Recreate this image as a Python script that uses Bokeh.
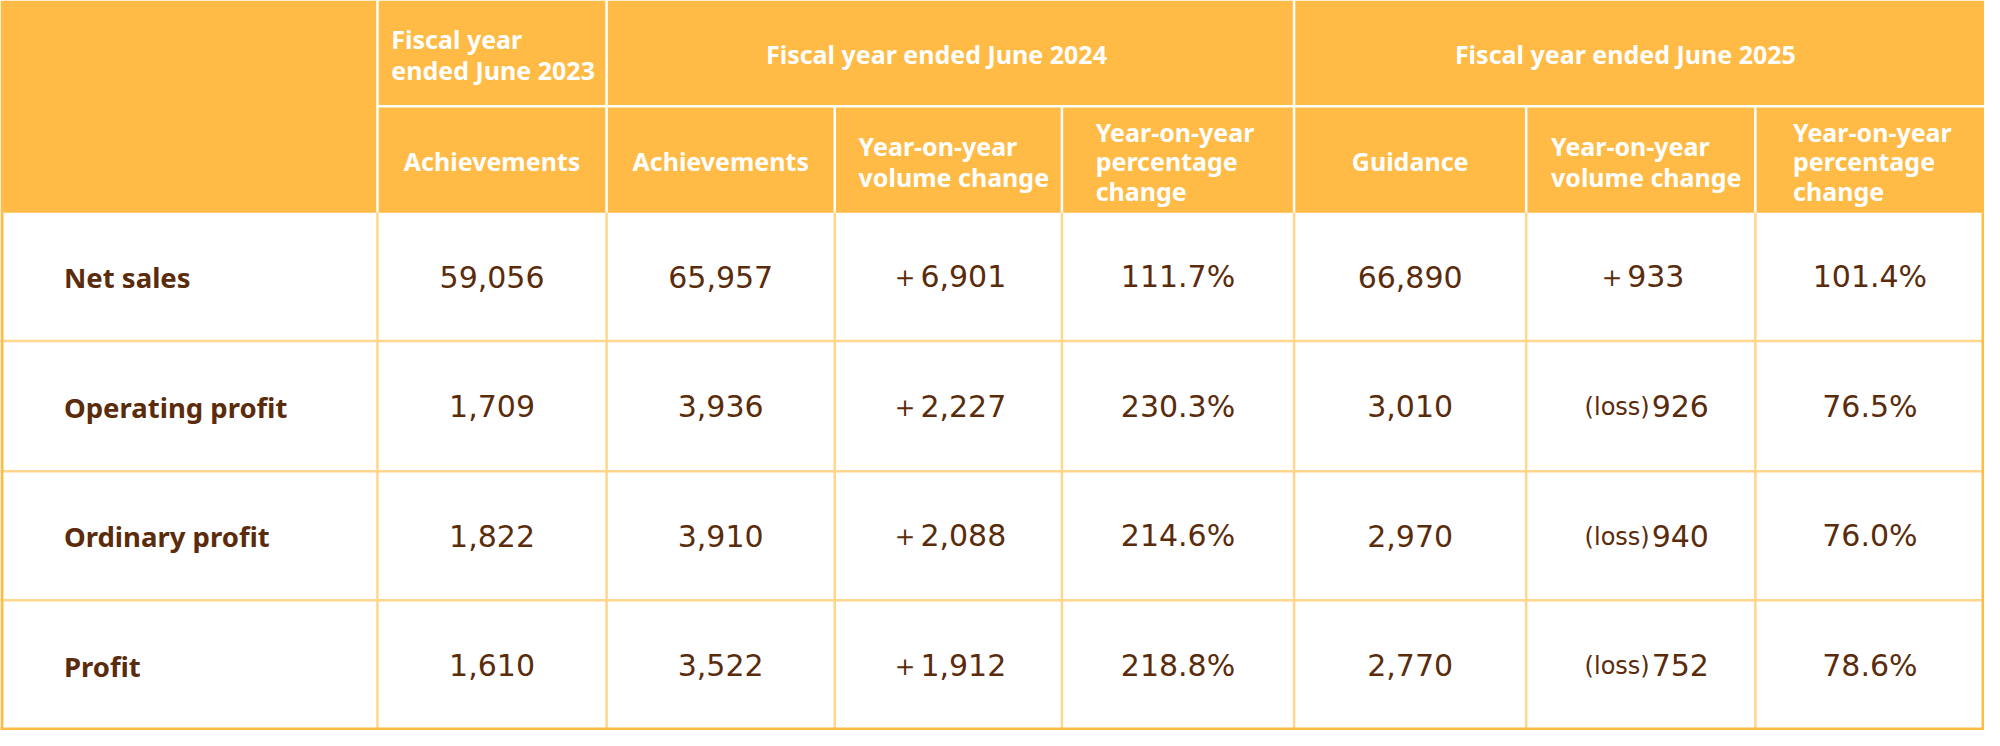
from bokeh.plotting import figure
from bokeh.models import Range1d
from bokeh.core.properties import value
from bokeh.embed import file_html
from bokeh.resources import INLINE

# ---------------- data ----------------
metrics = ["Net sales", "Operating profit", "Ordinary profit", "Profit"]
fy2023_actual = [59056, 1709, 1822, 1610]
fy2024_actual = [65957, 3936, 3910, 3522]
fy2024_yoy_change = [6901, 2227, 2088, 1912]
fy2024_yoy_pct = [111.7, 230.3, 214.6, 218.8]
fy2025_guidance = [66890, 3010, 2970, 2770]
fy2025_yoy_change = [933, -926, -940, -752]
fy2025_yoy_pct = [101.4, 76.5, 76.0, 78.6]

group_headers = ["Fiscal year\nended June 2023",
                 "Fiscal year ended June 2024",
                 "Fiscal year ended June 2025"]
sub_headers = ["Achievements", "Achievements",
               "Year-on-year\nvolume change",
               "Year-on-year\npercentage\nchange",
               "Guidance",
               "Year-on-year\nvolume change",
               "Year-on-year\npercentage\nchange"]
loss_label = "(loss)"

# ---------------- layout / style ----------------
W, H = 2000, 746
col_edges = [0, 380, 611, 841, 1070, 1304, 1538, 1769, 2000]
row_edges = [0, 108, 217, 348, 481, 613, 746]
HEADER_BG = "#FFBB45"
GRID = "#FFD68C"
BORDER = "#FFBB45"
INK = "#5A2C0C"
FONT = "Noto Sans"
NUM_FONT = "DejaVu Sans"

p = figure(width=1984, height=730, x_range=Range1d(0, W), y_range=Range1d(H, 0),
           output_backend="svg", toolbar_location=None, min_border=0,
           x_axis_location=None, y_axis_location=None,
           outline_line_color=None, background_fill_color="white",
           border_fill_color="white")
p.grid.visible = False

# header background
p.quad(left=[0], right=[W], top=[row_edges[0]], bottom=[row_edges[2]],
       fill_color=HEADER_BG, line_color=None)

# white header lines
wx0, wy0, wx1, wy1 = [], [], [], []
for i in (1, 2, 5):
    wx0.append(col_edges[i]); wx1.append(col_edges[i]); wy0.append(row_edges[0]); wy1.append(row_edges[2])
for i in (3, 4, 6, 7):
    wx0.append(col_edges[i]); wx1.append(col_edges[i]); wy0.append(row_edges[1]); wy1.append(row_edges[2])
wx0.append(col_edges[1]); wx1.append(col_edges[-1]); wy0.append(row_edges[1]); wy1.append(row_edges[1])
p.segment(x0=wx0, y0=wy0, x1=wx1, y1=wy1, line_color="white", line_width=2.5)

# body grid lines
gx0, gy0, gx1, gy1 = [], [], [], []
for x in col_edges[1:-1]:
    gx0.append(x); gx1.append(x); gy0.append(row_edges[2]); gy1.append(row_edges[-1])
for y in row_edges[3:-1]:
    gx0.append(col_edges[0]); gx1.append(col_edges[-1]); gy0.append(y); gy1.append(y)
p.segment(x0=gx0, y0=gy0, x1=gx1, y1=gy1, line_color=GRID, line_width=2.5)

# outer border of the body
p.segment(x0=[1.5, W - 1.5, 0], y0=[row_edges[2], row_edges[2], H - 1.5],
          x1=[1.5, W - 1.5, W], y1=[H, H, H - 1.5], line_color=BORDER, line_width=3)

# ---------------- header texts ----------------
head_kw = dict(text_baseline="middle", text_color="white", text_font=value(FONT),
               text_font_style="bold", text_font_size="25px")
gh_y = (row_edges[0] + row_edges[1]) / 2
p.text(x=[col_edges[1] + 14], y=[gh_y + 1], text=[group_headers[0]], text_align="left",
       text_line_height=0.93, **head_kw)
p.text(x=[(col_edges[2] + col_edges[5]) / 2 - 14, (col_edges[5] + col_edges[8]) / 2 - 14],
       y=[gh_y + 1, gh_y + 1], text=group_headers[1:], text_align="center", **head_kw)

sub_offsets = [None, None, 24, 34, None, 25, 38]
sh_y = (row_edges[1] + row_edges[2]) / 2
groups = {}
for i, (txt, off) in enumerate(zip(sub_headers, sub_offsets)):
    n_lines = txt.count("\n") + 1
    if off is None:
        x, align = (col_edges[i + 1] + col_edges[i + 2]) / 2, "center"
    else:
        x, align = col_edges[i + 1] + off, "left"
    groups.setdefault((n_lines, align), []).append((x, txt))
line_h = {1: 1.2, 2: 0.93, 3: 0.86}
for (n_lines, align), items in groups.items():
    p.text(x=[it[0] for it in items], y=[sh_y + 2] * len(items), text=[it[1] for it in items],
           text_align=align, text_line_height=line_h[n_lines], **head_kw)

# ---------------- body texts ----------------
row_y = [(row_edges[k + 2] + row_edges[k + 3]) / 2 for k in range(len(metrics))]
p.text(x=[64] * len(metrics), y=[y + 1 for y in row_y], text=metrics, text_align="left",
       text_baseline="middle", text_color=INK, text_font=value(FONT),
       text_font_style="bold", text_font_size="27.5px")

columns = [fy2023_actual, fy2024_actual, fy2024_yoy_change, fy2024_yoy_pct,
           fy2025_guidance, fy2025_yoy_change, fy2025_yoy_pct]
kinds = ["int", "int", "chg", "pct", "int", "chg", "pct"]

vx, vy, vt = [], [], []
lx, ly, lnum = [], [], []
for c, (vals, kind) in enumerate(zip(columns, kinds)):
    cx = (col_edges[c + 1] + col_edges[c + 2]) / 2
    for r, v in enumerate(vals):
        if kind == "int":
            vx.append(cx); vy.append(row_y[r]); vt.append(f"{v:,}")
        elif kind == "pct":
            vx.append(cx); vy.append(row_y[r]); vt.append(f"{v:.1f}%")
        else:
            if v >= 0:
                vx.append(cx); vy.append(row_y[r]); vt.append(f"＋{v:,}")
            else:
                lx.append(cx + 10); ly.append(row_y[r]); lnum.append(f"{abs(v):,}")

p.text(x=vx, y=vy, text=vt, text_align="center", text_baseline="middle",
       text_color=INK, text_font=value(NUM_FONT), text_font_size="30px")
p.text(x=[x - 1 for x in lx], y=[y + 1 for y in ly], text=[loss_label] * len(lx),
       text_align="right", text_baseline="middle", text_color=INK,
       text_font=value(NUM_FONT), text_font_size="24px")
p.text(x=[x + 1 for x in lx], y=ly, text=lnum, text_align="left", text_baseline="middle",
       text_color=INK, text_font=value(NUM_FONT), text_font_size="30px")

open("out.html", "w").write(file_html(p, INLINE))
